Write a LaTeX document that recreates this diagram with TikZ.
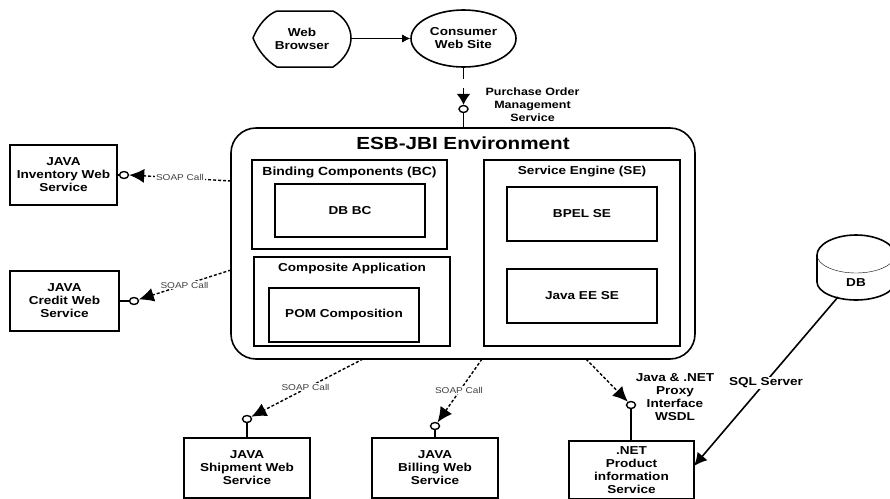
\documentclass[tikz,border=0pt]{standalone}
\usepackage{fontspec}
\setmainfont{Liberation Sans}[FakeStretch=1.18]
\usetikzlibrary{arrows.meta,positioning,shapes.geometric}

\tikzset{
  boxnode/.style={draw, line width=1.6pt, inner sep=0pt, align=center, font=\fontsize{11.5}{13}\selectfont\bfseries},
  labelnode/.style={inner sep=1pt, align=center, font=\fontsize{11.5}{13}\selectfont\bfseries},
  soaplabel/.style={fill=white, inner sep=1pt, text=black!75, font=\fontsize{8.5}{10}\selectfont},
  portnode/.style={ellipse, draw, line width=1.4pt, fill=white, inner sep=0pt, minimum width=9pt, minimum height=7pt},
  stemline/.style={line width=1.6pt},
  callline/.style={line width=1.4pt, dash pattern=on 3pt off 2pt, -{Latex[length=15pt,width=14pt]}},
}

\begin{document}
\begin{tikzpicture}[x=1pt, y=-1pt]
  \useasboundingbox (0,0) rectangle (890,498);
  \clip (0,0) rectangle (890,498);

  % top of the picture
  \draw[line width=1.5pt] (253,38) .. controls (258,25) and (268,14) .. (277,11) -- (333,11)
    .. controls (345,17) and (351,28) .. (351,38) .. controls (351,48) and (345,59) .. (333,67)
    -- (277,67) .. controls (268,62) and (258,51) .. (253,38) -- cycle;
  \node[labelnode, minimum width=98pt, minimum height=56pt] (browser) at (302,38.5) {Web\\Browser};
  \node[boxnode, ellipse, minimum width=105pt, minimum height=57pt] (consumer) at (463.5,38.5) {Consumer\\Web Site};

  % environment
  \node[boxnode, rounded corners=25pt, minimum width=464pt, minimum height=231pt] (env) at (463,243.5) {};
  \node[labelnode, font=\fontsize{17.5}{20}\selectfont\bfseries] (envtitle) at (463,143) {ESB-JBI Environment};
  \node[boxnode, minimum width=195pt, minimum height=89pt] (bc) at (349.5,204.5) {};
  \node[labelnode] (bctitle) at (349.5,172) {\fontsize{11.8}{13}\selectfont Binding Components (BC)};
  \node[boxnode, minimum width=150pt, minimum height=53pt] (dbbc) at (350,210.5) {DB BC};
  \node[boxnode, minimum width=196pt, minimum height=89pt] (comp) at (352,301.5) {};
  \node[labelnode] (comptitle) at (352,269) {Composite Application};
  \node[boxnode, minimum width=150pt, minimum height=54pt] (pom) at (344,315) {POM Composition};
  \node[boxnode, minimum width=196pt, minimum height=186pt] (se) at (582,253) {};
  \node[labelnode] (setitle) at (582,172) {Service Engine (SE)};
  \node[boxnode, minimum width=150pt, minimum height=54pt] (bpel) at (582,214) {BPEL SE};
  \node[boxnode, minimum width=150pt, minimum height=54pt] (javaee) at (582,296) {Java EE SE};

  % services
  \node[boxnode, minimum width=107pt, minimum height=60pt] (inventory) at (63.5,175) {JAVA\\Inventory Web\\Service};
  \node[boxnode, minimum width=109pt, minimum height=60pt] (credit) at (64.5,301) {JAVA\\Credit Web\\Service};
  \node[boxnode, minimum width=126pt, minimum height=60pt] (shipment) at (247,468) {JAVA\\Shipment Web\\Service};
  \node[boxnode, minimum width=126pt, minimum height=60pt] (billing) at (435,468) {JAVA\\Billing Web\\Service};
  \node[boxnode, minimum width=125pt, minimum height=58pt] (dotnet) at (631.5,470) {.NET\\Product\\information\\Service};

  % database
  \draw[line width=1.6pt] (817,255) .. controls (817,244) and (835,235) .. (856,235)
    .. controls (877,235) and (895,244) .. (895,255) -- (895,282)
    .. controls (895,292) and (877,300) .. (856,300) .. controls (835,300) and (817,292) .. (817,282) -- cycle;
  \draw (817,255) .. controls (817,265) and (835,273) .. (856,273) .. controls (877,273) and (895,265) .. (895,255);
  \node[labelnode, minimum width=78pt, minimum height=65pt] (db) at (856,267.5) {};
  \node[labelnode] (dblabel) at (856,283) {DB};

  % ports
  \node[portnode] (inventoryport) at (124,175) {};
  \node[portnode] (creditport) at (134,301) {};
  \node[portnode] (shipmentport) at (247,419) {};
  \node[portnode] (billingport) at (435,426) {};
  \node[portnode] (dotnetport) at (631,405) {};
  \node[portnode] (pomsport) at (463.5,109) {};

  \coordinate (envw1) at (231,181);
  \coordinate (envw2) at (231,270);
  \coordinate (envs1) at (363,359);
  \coordinate (envs2) at (482,359);
  \coordinate (envs3) at (586,359);
  \coordinate (envn) at (463.5,128);
  \coordinate (dbfoot) at (838,297);
  \coordinate (dotnetin) at (694,466);

  \draw[line width=0.7pt, -{Latex[length=8pt,width=8pt]}] (browser.east) -- (consumer.west);
  \draw[stemline, dash pattern=on 11pt off 9pt, -{Latex[length=11pt,width=14pt]}] (consumer.south) -- (pomsport.north);
  \draw[stemline] (pomsport.south) -- (envn);
  \draw[stemline] (inventory.east |- inventoryport) -- (inventoryport.west);
  \draw[stemline] (credit.east |- creditport) -- (creditport.west);
  \draw[stemline] (shipmentport.south) -- (shipment.north);
  \draw[stemline] (billingport.south) -- (billing.north);
  \draw[stemline] (dotnetport.south) -- (dotnet.north -| dotnetport);
  \draw[callline] (envw1) -- (inventoryport.east);
  \draw[callline] (envw2) -- (creditport);
  \draw[callline] (envs1) -- (shipmentport);
  \draw[callline] (envs2) -- (billingport);
  \draw[callline] (envs3) -- (dotnetport);
  \draw[stemline, -{Latex[length=13pt,width=13pt]}] (dbfoot) -- (dotnetin);

  % labels
  \node[soaplabel] (soap1) at (180,177) {SOAP Call};
  \node[soaplabel] (soap2) at (184.5,285) {SOAP Call};
  \node[soaplabel] (soap3) at (305.5,387) {SOAP Call};
  \node[soaplabel] (soap4) at (459,390) {SOAP Call};
  \node[labelnode, font=\fontsize{10.6}{13}\selectfont\bfseries] (pomslabel) at (532.5,104.5) {Purchase Order\\Management\\Service};
  \node[labelnode] (proxylabel) at (675,397) {Java \& .NET\\Proxy\\Interface\\WSDL};
  \node[labelnode, fill=white] (sqllabel) at (766,383) {SQL Server};
\end{tikzpicture}
\end{document}
